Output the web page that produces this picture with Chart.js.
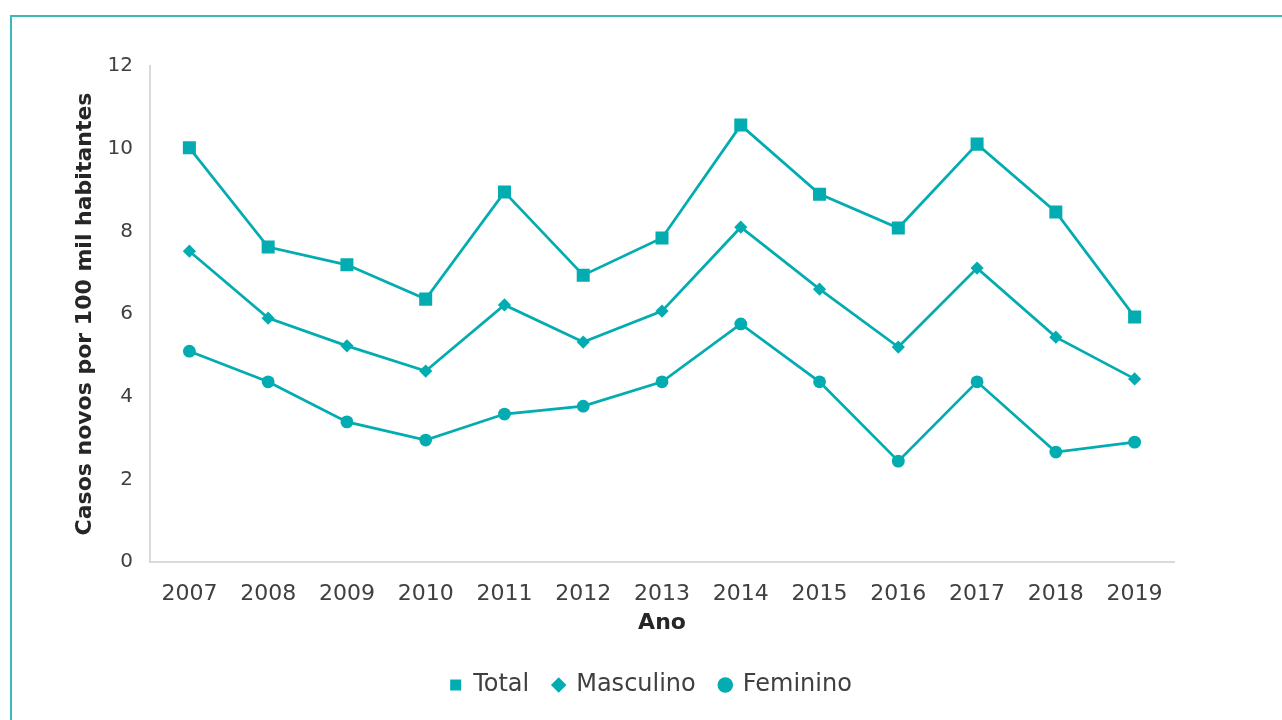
<!DOCTYPE html>
<html>
<head>
<meta charset="utf-8">
<script src="https://cdn.jsdelivr.net/npm/chart.js@4.4.1/dist/chart.umd.min.js"></script>
<style>
  html, body { margin: 0; padding: 0; background: #fff; overflow: hidden; }
  #frame {
    position: absolute; left: 10px; top: 15px; width: 1300px; height: 740px;
    border: 2px solid #3db7b7; box-sizing: border-box;
  }
  #wrap { position: absolute; left: 0; top: 0; width: 1282px; height: 720px; }
</style>
</head>
<body>
<div id="frame"></div>
<div id="wrap"><canvas id="chart" width="1282" height="720"></canvas></div>
<script>
const years = ['2007', '2008', '2009', '2010', '2011', '2012', '2013', '2014', '2015', '2016', '2017', '2018', '2019'];
const total = [10.02, 7.62, 7.19, 6.36, 8.95, 6.94, 7.84, 10.57, 8.9, 8.08, 10.11, 8.47, 5.93];
const masculino = [7.52, 5.9, 5.23, 4.62, 6.22, 5.32, 6.07, 8.1, 6.6, 5.2, 7.11, 5.44, 4.43];
const feminino = [5.1, 4.36, 3.39, 2.95, 3.58, 3.77, 4.36, 5.76, 4.36, 2.44, 4.36, 2.66, 2.9];
const yTicks = [0, 2, 4, 6, 8, 10, 12];

const teal = '#03acb0';
const textColor = '#404040';
const fontFamily = '"DejaVu Sans", sans-serif';

function series(label, data, style, radius) {
    return {
        label: label,
        data: data,
        borderColor: teal,
        backgroundColor: teal,
        borderWidth: 2.75,
        pointStyle: style,
        pointRadius: radius,
        pointHoverRadius: radius,
        pointBorderWidth: 0,
        pointBackgroundColor: teal,
        tension: 0
    };
}

// legend sits centred under the whole picture, not under the box left of the right padding
const legendShift = {
    id: 'legendShift',
    afterLayout(chart) {
        chart.legend.left += 64;
        chart.legend.right += 64;
    }
};

const ctx = document.getElementById('chart').getContext('2d');
const chart = new Chart(ctx, {
    type: 'line',
    data: {
        labels: years,
        datasets: [
            series('Total', total, 'rect', 9.2),
            series('Masculino', masculino, 'rectRot', 6.6),
            series('Feminino', feminino, 'circle', 6.4)
        ]
    },
    plugins: [legendShift],
    options: {
        responsive: false,
        animation: false,
        devicePixelRatio: 1,
        layout: {
            padding: {top: 66, right: 108, bottom: 13, left: 0}
        },
        plugins: {
            tooltip: {enabled: false},
            legend: {
                position: 'bottom',
                labels: {
                    usePointStyle: true,
                    boxWidth: 11,
                    boxHeight: 11,
                    padding: 24,
                    color: textColor,
                    font: {family: fontFamily, size: 24}
                }
            }
        },
        scales: {
            x: {
                offset: true,
                grid: {display: false, drawTicks: false},
                border: {display: true, color: '#d9d9d9', width: 2},
                ticks: {
                    color: textColor,
                    padding: 19,
                    maxRotation: 0,
                    font: {family: fontFamily, size: 22}
                },
                title: {
                    display: true,
                    text: 'Ano',
                    color: '#262626',
                    padding: {top: 16, bottom: 13},
                    font: {family: fontFamily, size: 22, weight: 'bold'}
                },
                afterFit: s => { s.height = 87; }
            },
            y: {
                min: 0,
                max: 12,
                afterBuildTicks: s => { s.ticks = yTicks.map(v => ({value: v})); },
                grid: {display: false, drawTicks: false},
                border: {display: true, color: '#d9d9d9', width: 2},
                ticks: {
                    color: textColor,
                    padding: 17,
                    font: {family: fontFamily, size: 20}
                },
                title: {
                    display: true,
                    text: 'Casos novos por 100 mil habitantes',
                    color: '#262626',
                    padding: {top: 72, bottom: 0},
                    font: {family: fontFamily, size: 22, weight: 'bold'}
                },
                afterFit: s => { s.width = 150; }
            }
        }
    }
});
</script>
</body>
</html>
